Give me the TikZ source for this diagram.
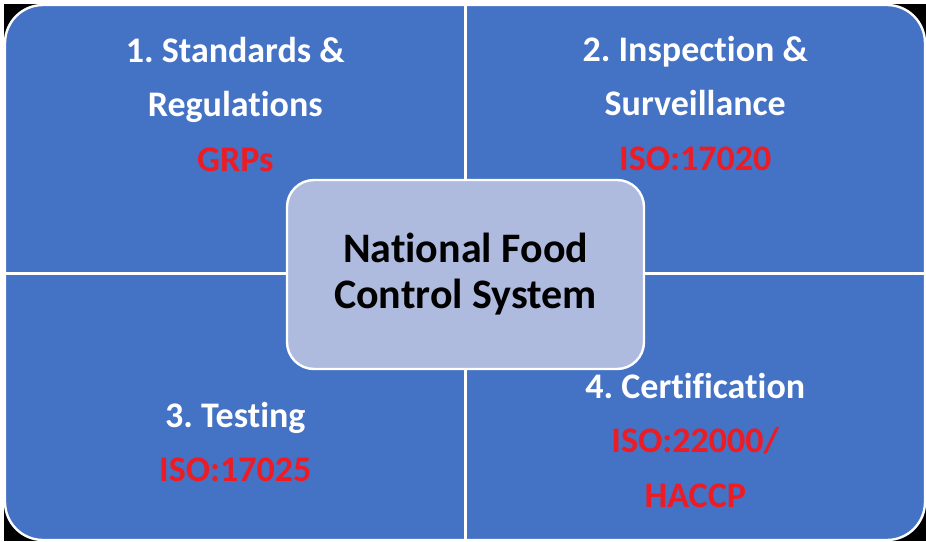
\documentclass[tikz,border=0pt]{standalone}
\usepackage{fontspec}
\setmainfont{Carlito}[Ligatures={NoCommon,NoContextual}]
\frenchspacing
\definecolor{tileblue}{HTML}{4472C4}
\definecolor{coreblue}{HTML}{AEBBDF}
\definecolor{stdred}{HTML}{ED1C24}
\newcommand{\stdref}[1]{\textcolor{stdred}{#1}}

\tikzset{
  board/.style={fill=tileblue, draw=white, line width=2.4pt, rounded corners=38pt},
  divider/.style={draw=white, line width=2.4pt},
  tiletext/.style={text=white, align=center, font=\bfseries\fontsize{36}{54.5}\selectfont},
  corebox/.style={fill=coreblue, draw=white, line width=2.4pt, rounded corners=27pt,
    minimum width=357pt, minimum height=189pt, align=center,
    font=\bfseries\fontsize{42}{46}\selectfont},
}

\begin{document}
\begin{tikzpicture}[x=1pt,y=-1pt]
\useasboundingbox (0,0) rectangle (926,541);

	%dark backdrop showing at the outer corners
	\fill[black] (4,4) rectangle (926,541);

	%the four tiles: one rounded board cut by two white lines
	\path[board] (5,5) rectangle (925,540);
	\draw[divider] (465.5,5) -- (465.5,540);
	\draw[divider] (5,273.5) -- (925,273.5);

	%tile labels
	\node[tiletext] (standards) at (235.25,104) {1. Standards \&\\Regulations\\\stdref{GRPs}};
	\node[tiletext] (inspection) at (695.25,103) {2. Inspection \&\\Surveillance\\\stdref{ISO:17020}};
	\node[tiletext] (testing) at (235.25,442) {3. Testing\\\stdref{ISO:17025}};
	\node[tiletext] (certification) at (695.25,440) {4. Certification\\\stdref{ISO:22000/}\\\stdref{HACCP}};

	%centre box
	\node[corebox] (nfcs) at (465.5,274.5) {National Food\\Control System};

\end{tikzpicture}
\end{document}
